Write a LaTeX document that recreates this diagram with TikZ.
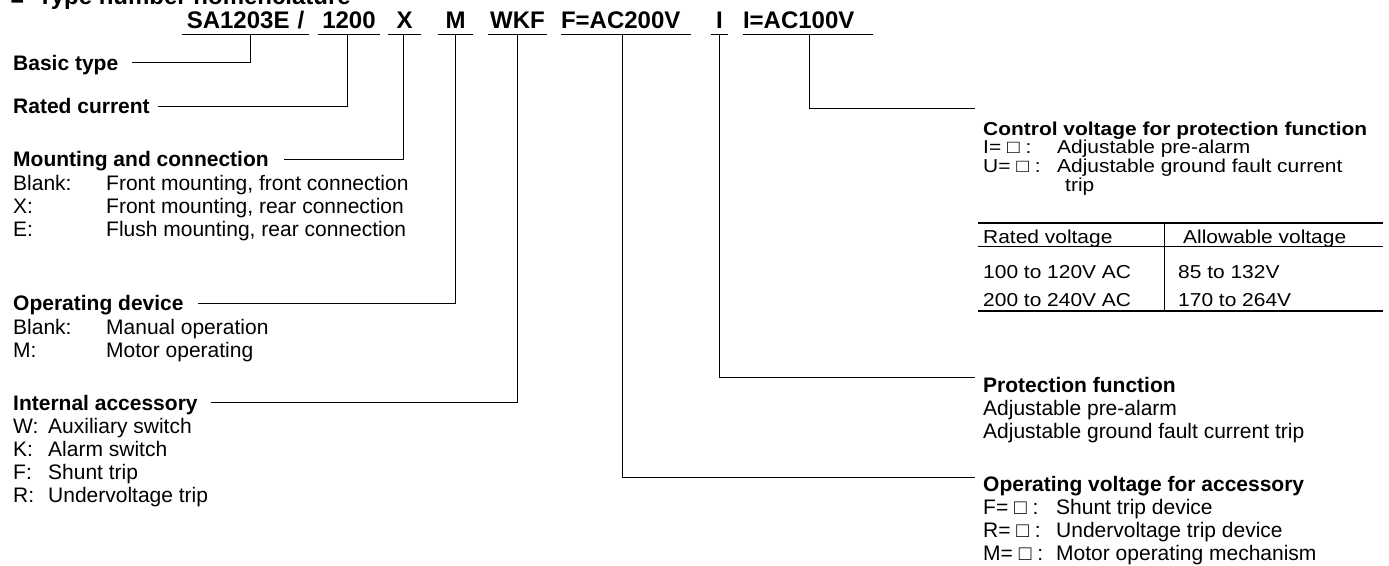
\documentclass[tikz,border=0pt]{standalone}
\usepackage{fontspec}
\setmainfont{Liberation Sans}
\newfontfamily\widefont[FakeStretch=1.12]{Liberation Sans}
\newcommand\tblfont{\widefont\fontsize{18.7}{18.5}\selectfont}
\usetikzlibrary{positioning}

\tikzset{
  code/.style={font=\fontsize{24}{28}\selectfont\bfseries, inner sep=0pt,
    text depth=6pt, anchor=base, align=center},
  head/.style={font=\fontsize{21}{23.3}\selectfont\bfseries, inner sep=0pt,
    text height=15pt, text depth=0pt, anchor=west},
  rhead/.style={head, anchor=base west},
  body/.style={font=\fontsize{21}{23}\selectfont, inner sep=0pt, anchor=base west},
  lead/.style={line width=1pt},
}

\begin{document}
\begin{tikzpicture}[x=1pt,y=-1pt]
    \useasboundingbox (0,0) rectangle (1389,565);
    \node[font=\fontsize{24}{28}\selectfont\bfseries, anchor=base west, inner sep=0pt]
      (title) at (10,4) {■\hspace{0.55em}Type number nomenclature};

    % type number
    \node[code, text width=127pt] (sa) at (245.5,28) {SA1203E /};
    \node[code, text width=62pt] (cur) at (349,28) {1200};
    \node[code, text width=33pt] (mnt) at (404.5,28) {X};
    \node[code, text width=35pt] (opd) at (455.5,28) {M};
    \node[code, text width=59pt] (acc) at (517.5,28) {WKF};
    \node[code, text width=130pt, align=left] (vlt) at (626,28) {F=AC200V};
    \node[code, text width=17pt] (prt) at (719.5,28) {I};
    \node[code, text width=130pt, align=left] (ctl) at (808,28) {I=AC100V};
    \foreach \n in {sa,cur,mnt,opd,acc,vlt,prt,ctl}
      \draw[lead] (\n.south west) -- (\n.south east);

    % left column
    \node[head] (basic) at (13,62.7) {Basic type};
    \node[head] (rated) at (13,106) {Rated current};
    \node[head] (mount) at (13,159.3) {Mounting and connection};
    \node[body] (mountlst) at ([yshift=-23.3pt]mount.base west)
      {\begin{tabular}[t]{@{}p{93pt}@{}l@{}}
        Blank: & Front mounting, front connection\\
        X: & Front mounting, rear connection\\
        E: & Flush mounting, rear connection
      \end{tabular}};
    \node[head] (opdev) at (13,303.3) {Operating device};
    \node[body] (opdevlst) at ([yshift=-23.3pt]opdev.base west)
      {\begin{tabular}[t]{@{}p{93pt}@{}l@{}}
        Blank: & Manual operation\\
        M: & Motor operating
      \end{tabular}};
    \node[head] (intacc) at (13,402.7) {Internal accessory};
    \node[body] (intacclst) at ([yshift=-23.3pt]intacc.base west)
      {\begin{tabular}[t]{@{}p{35pt}@{}l@{}}
        W: & Auxiliary switch\\
        K: & Alarm switch\\
        F: & Shunt trip\\
        R: & Undervoltage trip
      \end{tabular}};

    % right column
    \node[rhead, font=\tblfont\bfseries] (ctlvolt) at (983,135)
      {Control voltage for protection function};
    \node[body, font=\tblfont] (ctllst) at ([yshift=-18.5pt]ctlvolt.base west)
      {\begin{tabular}[t]{@{}p{74pt}@{}l@{}}
        I= □ : & Adjustable pre-alarm\\
        U= □ : & Adjustable ground fault current\\
        & \hspace{8pt}trip
      \end{tabular}};
    \node[body, font=\tblfont] (rv) at (983,243.5) {Rated voltage};
    \node[body, font=\tblfont] (av) at (1183,243.5) {Allowable voltage};
    \node[body, font=\tblfont] (rv1) at (983,278.3) {100 to 120V AC};
    \node[body, font=\tblfont] (av1) at (1178,278.3) {85 to 132V};
    \node[body, font=\tblfont] (rv2) at (983,306.7) {200 to 240V AC};
    \node[body, font=\tblfont] (av2) at (1178,306.7) {170 to 264V};
    \draw[line width=2pt] (978,222.7) -- (1383,222.7);
    \draw[lead] (978,246.7) -- (1383,246.7);
    \draw[line width=2pt] (978,311) -- (1383,311);
    \draw[lead] (1164,222.7) -- (1164,311);

    \node[rhead] (protfn) at (983,392.3) {Protection function};
    \node[body] (protlst) at ([yshift=-23pt]protfn.base west)
      {\begin{tabular}[t]{@{}l@{}}
        Adjustable pre-alarm\\
        Adjustable ground fault current trip
      \end{tabular}};
    \node[rhead] (opvolt) at (983,491) {Operating voltage for accessory};
    \node[body] (opvoltlst) at ([yshift=-23pt]opvolt.base west)
      {\begin{tabular}[t]{@{}p{73pt}@{}l@{}}
        F= □ : & Shunt trip device\\
        R= □ : & Undervoltage trip device\\
        M= □ : & Motor operating mechanism
      \end{tabular}};

    % leaders
    \draw[lead] ([xshift=4.5pt]sa.south) |- ([xshift=14pt]basic.east);
    \draw[lead] ([xshift=-2pt]cur.south) |- ([xshift=8pt]rated.east);
    \draw[lead] ([xshift=-1.5pt]mnt.south) |- ([xshift=15pt]mount.east);
    \draw[lead] (opd.south) |- ([xshift=14pt]opdev.east);
    \draw[lead] (acc.south) |- ([xshift=13pt]intacc.east);
    \draw[lead] ([xshift=-4pt]vlt.south) |- ([xshift=-8pt,yshift=-2pt]opvolt.north west);
    \draw[lead] (prt.south) |- ([xshift=-8pt]protfn.north west);
    \draw[lead] ([xshift=1pt]ctl.south) |- ([xshift=-8pt,yshift=11pt]ctlvolt.north west);
  \end{tikzpicture}
\end{document}
